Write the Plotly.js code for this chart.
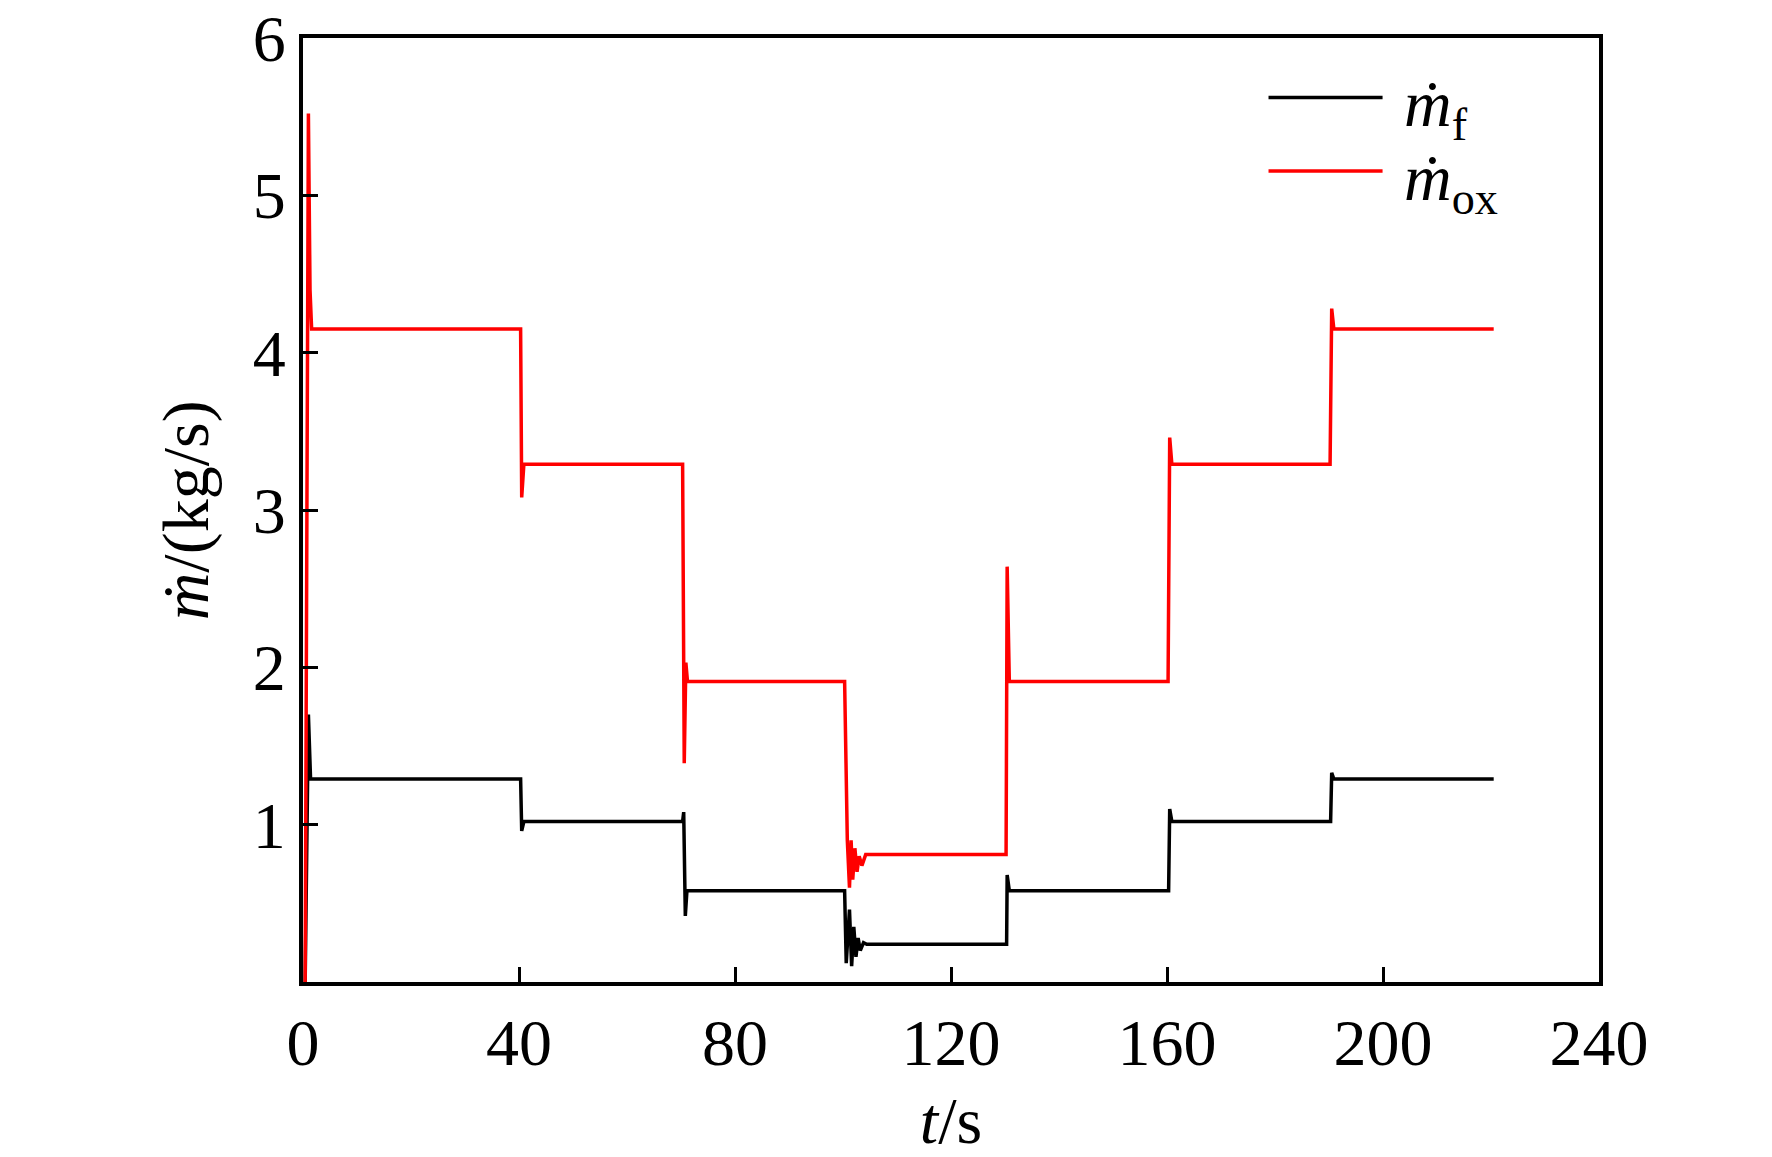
<!DOCTYPE html>
<html>
<head>
<meta charset="utf-8">
<script src="https://cdn.plot.ly/plotly-3.0.1.min.js"></script>
<style>
  body { margin: 0; background: #fff; }
  #chart { width: 1772px; height: 1157px; }
</style>
</head>
<body>
<div id="chart"></div>
<script>
// fuel mass flow (black)
const fuelTime = [0.4, 1.0, 1.4, 40.3, 40.5, 40.9, 70.3, 70.5, 70.8, 71.1,
  100.3, 100.6, 101.2, 101.6, 102.0, 102.4, 102.8, 103.2, 103.8, 104.4,
  130.3, 130.4, 130.8, 160.3, 160.5, 160.9, 190.3, 190.5, 190.9, 220.5];
const fuelFlow = [0, 1.70, 1.29, 1.29, 0.96, 1.02, 1.02, 1.08, 0.42, 0.58,
  0.58, 0.12, 0.46, 0.10, 0.35, 0.16, 0.28, 0.20, 0.25, 0.24,
  0.24, 0.68, 0.58, 0.58, 1.10, 1.02, 1.02, 1.33, 1.29, 1.29];

// oxidizer mass flow (red)
const oxTime = [0.4, 1.0, 1.3, 1.6, 40.3, 40.5, 40.9, 70.3, 70.6, 70.9, 71.2,
  100.3, 100.8, 101.2, 101.5, 101.8, 102.2, 102.6, 103.0, 103.5, 104.2,
  130.2, 130.4, 130.8, 160.2, 160.5, 160.9, 190.2, 190.5, 190.9, 220.5];
const oxFlow = [0, 5.52, 4.40, 4.15, 4.15, 3.08, 3.29, 3.29, 1.39, 2.03, 1.91,
  1.91, 0.90, 0.60, 0.90, 0.65, 0.85, 0.70, 0.80, 0.74, 0.81,
  0.81, 2.64, 1.91, 1.91, 3.46, 3.29, 3.29, 4.28, 4.15, 4.15];

const xTicks = [0, 40, 80, 120, 160, 200, 240];
const yTicks = [1, 2, 3, 4, 5, 6];

const seriesNames = ['<i>\u1E41</i><sub>f</sub>', '<i>\u1E41</i><sub>ox</sub>'];
const seriesColors = ['black', 'red'];

const serif = '"Liberation Serif", "Times New Roman", serif';

const data = [
  {
    x: fuelTime, y: fuelFlow, type: 'scatter', mode: 'lines',
    name: seriesNames[0],
    line: { color: seriesColors[0], width: 3.5 }
  },
  {
    x: oxTime, y: oxFlow, type: 'scatter', mode: 'lines',
    name: seriesNames[1],
    line: { color: seriesColors[1], width: 3.5 }
  }
];

// legend drawn by hand so the sample lines can be as long as in the original
const legendRowY = [0.937, 0.859];
const shapes = legendRowY.map((y, i) => ({
  type: 'line', xref: 'paper', yref: 'paper',
  x0: 0.745, x1: 0.833, y0: y, y1: y,
  line: { color: seriesColors[i], width: 3.5 }
}));
const annotations = legendRowY.map((y, i) => ({
  xref: 'paper', yref: 'paper',
  x: 0.848, y: y - 0.012, xanchor: 'left', yanchor: 'middle',
  text: seriesNames[i], showarrow: false,
  font: { family: serif, size: 66, color: 'black' }
}));

// y title as an annotation, placed close to the tick labels like the original
annotations.push({
  xref: 'paper', yref: 'paper',
  x: -0.09, y: 0.5, xanchor: 'center', yanchor: 'middle',
  textangle: -90, showarrow: false,
  text: '<i>\u1E41</i>/(kg/s)',
  font: { family: serif, size: 66, color: 'black' }
});

const axisCommon = {
  showgrid: false,
  zeroline: false,
  showline: true,
  linecolor: 'black',
  linewidth: 4,
  mirror: true,
  ticks: 'inside',
  ticklen: 15,
  tickwidth: 3,
  tickcolor: 'black',
  tickfont: { family: serif, size: 66, color: 'black' }
};

const layout = {
  width: 1772,
  height: 1157,
  margin: { l: 303, r: 173, t: 38, b: 175 },
  paper_bgcolor: 'white',
  plot_bgcolor: 'white',
  font: { family: serif, color: 'black' },
  showlegend: false,
  shapes: shapes,
  annotations: annotations,
  xaxis: Object.assign({}, axisCommon, {
    range: [0, 240],
    tickvals: xTicks,
    title: { text: '<i>t</i>/s', font: { family: serif, size: 66 } }
  }),
  yaxis: Object.assign({}, axisCommon, {
    range: [0, 6],
    tickvals: yTicks
  })
};

Plotly.newPlot('chart', data, layout, { displayModeBar: false, staticPlot: true });
</script>
</body>
</html>
